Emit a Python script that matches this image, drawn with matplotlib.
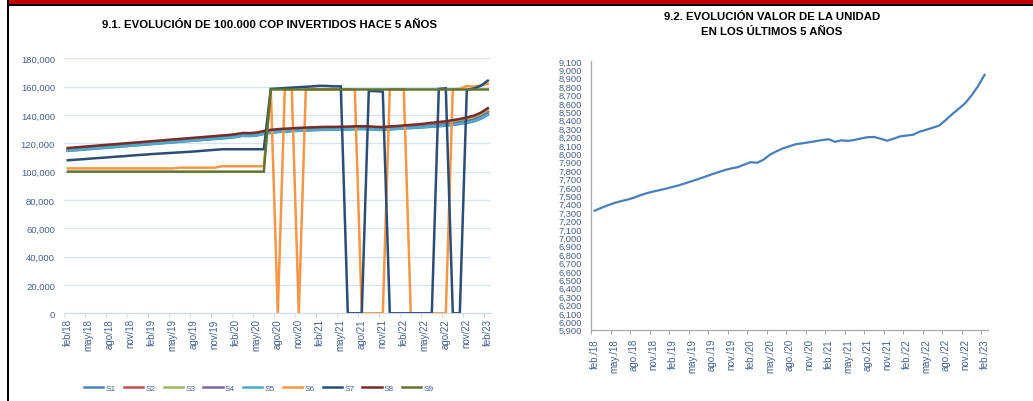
import numpy as np
import matplotlib.pyplot as plt
from matplotlib.patches import Rectangle
from matplotlib.ticker import StrMethodFormatter

plt.rcParams['font.family'] = ['Liberation Sans', 'DejaVu Sans']

# -------------------------------
# datos (mensual feb/18 -> feb/23, 61 puntos)
# -------------------------------
labels_left = ['feb/18', 'may/18', 'ago/18', 'nov/18', 'feb/19', 'may/19', 'ago/19',
               'nov/19', 'feb/20', 'may/20', 'ago/20', 'nov/20', 'feb/21', 'may/21',
               'ago/21', 'nov/21', 'feb/22', 'may/22', 'ago/22', 'nov/22', 'feb/23']
labels_right = ['feb./18', 'may./18', 'ago./18', 'nov./18', 'feb./19', 'may./19', 'ago./19',
                'nov./19', 'feb./20', 'may./20', 'ago./20', 'nov./20', 'feb./21', 'may./21',
                'ago./21', 'nov./21', 'feb./22', 'may./22', 'ago./22', 'nov./22', 'feb./23']

s1 = [114600, 115000, 115400, 115800, 116200, 116600, 117000, 117400, 117800, 118200, 118600, 119000,
      119400, 119800, 120200, 120600, 121000, 121400, 121800, 122200, 122600, 123000, 123400, 123800,
      124400, 125200, 125100, 125500, 126600, 127400, 127900, 128200, 128500, 128800, 129000, 129200,
      129400, 129500, 129500, 129600, 129700, 129900, 130000, 129900, 129500, 129400, 129800, 130100,
      130500, 130700, 131000, 131300, 131700, 132000, 132400, 132900, 133600, 134400, 135400, 137300,
      140200]
s2 = [115600, 116000, 116400, 116800, 117200, 117600, 118000, 118400, 118800, 119200, 119600, 120000,
      120400, 120800, 121200, 121600, 122000, 122400, 122800, 123200, 123600, 124000, 124400, 124800,
      125400, 126200, 126100, 126500, 127600, 128400, 128900, 129200, 129500, 129800, 130000, 130200,
      130400, 130500, 130500, 130600, 130700, 130900, 131000, 130900, 130500, 130400, 130800, 131100,
      131500, 131800, 132100, 132500, 133050, 133500, 134000, 134600, 135400, 136300, 137500, 139500,
      142600]
s3 = [116000, 116400, 116800, 117200, 117600, 118000, 118400, 118800, 119200, 119600, 120000, 120400,
      120800, 121200, 121600, 122000, 122400, 122800, 123200, 123600, 124000, 124400, 124800, 125200,
      125800, 126600, 126500, 126900, 128000, 128800, 129300, 129600, 129900, 130200, 130400, 130600,
      130800, 130900, 130900, 131000, 131100, 131300, 131400, 131300, 130900, 130800, 131200, 131500,
      131900, 132250, 132600, 133050, 133600, 134050, 134600, 135250, 136100, 137000, 138200, 140200,
      143300]
s4 = [115200, 115600, 116000, 116400, 116800, 117200, 117600, 118000, 118400, 118800, 119200, 119600,
      120000, 120400, 120800, 121200, 121600, 122000, 122400, 122800, 123200, 123600, 124000, 124400,
      125000, 125800, 125700, 126100, 127200, 128000, 128500, 128800, 129100, 129400, 129600, 129800,
      130000, 130100, 130100, 130200, 130300, 130500, 130600, 130500, 130100, 130000, 130400, 130700,
      131100, 131400, 131700, 132100, 132600, 133000, 133500, 134000, 134800, 135600, 136700, 138600,
      141600]
s5 = [114800, 115200, 115600, 116000, 116400, 116800, 117200, 117600, 118000, 118400, 118800, 119200,
      119600, 120000, 120400, 120800, 121200, 121600, 122000, 122400, 122800, 123200, 123600, 124000,
      124600, 125400, 125300, 125700, 126800, 127600, 128100, 128400, 128700, 129000, 129200, 129400,
      129600, 129700, 129700, 129800, 129900, 130100, 130200, 130100, 129700, 129600, 130000, 130300,
      130700, 130900, 131200, 131500, 132000, 132300, 132700, 133200, 133900, 134700, 135700, 137600,
      140500]
s6 = [102300, 102300, 102300, 102300, 102300, 102300, 102300, 102300, 102300, 102300, 102300, 102300,
      102300, 102300, 102300, 102300, 102800, 102800, 102800, 102800, 102800, 102800, 103800, 103800,
      103800, 103800, 103800, 103800, 103800, 158000, 0, 158000, 158000, 0, 158000, 158000,
      158000, 158000, 158000, 158000, 158000, 158000, 0, 0, 0, 0, 158000, 158000,
      158000, 0, 0, 0, 0, 0, 0, 158000, 158500, 160500, 160000, 160800,
      162000]
s7 = [108000, 108400, 108700, 109100, 109500, 109800, 110200, 110600, 110900, 111300, 111700, 112000,
      112400, 112700, 113000, 113300, 113600, 113900, 114200, 114600, 115000, 115400, 115800, 115800,
      115800, 115800, 115800, 115800, 115800, 158400, 158700, 159000, 159300, 159600, 159900, 160200,
      160600, 160500, 160200, 160200, 0, 0, 0, 157000, 156800, 156500, 0, 0,
      0, 0, 0, 0, 0, 158400, 158800, 0, 0, 157600, 158700, 160600,
      164200]
s8 = [116700, 117100, 117500, 117900, 118300, 118700, 119100, 119500, 119900, 120300, 120700, 121100,
      121500, 121900, 122300, 122700, 123100, 123500, 123900, 124300, 124700, 125100, 125500, 125900,
      126500, 127300, 127200, 127600, 128700, 129500, 130000, 130300, 130600, 130900, 131100, 131300,
      131500, 131600, 131600, 131700, 131800, 132000, 132100, 132000, 131600, 131500, 131900, 132200,
      132600, 133000, 133400, 133900, 134500, 135000, 135600, 136300, 137200, 138200, 139500, 141600,
      144800]
s9 = [100000] * 29 + [158000] * 32

# valor de la unidad
unidad = [7317, 7350, 7380, 7408, 7430, 7448, 7470, 7500, 7525, 7545, 7562, 7580,
          7600, 7620, 7645, 7670, 7695, 7722, 7750, 7775, 7800, 7820, 7835, 7865,
          7895, 7888, 7925, 7985, 8025, 8060, 8085, 8110, 8120, 8132, 8145, 8158,
          8168, 8138, 8155, 8148, 8160, 8178, 8192, 8195, 8175, 8150, 8175, 8202,
          8212, 8222, 8258, 8280, 8305, 8330, 8395, 8465, 8530, 8595, 8690, 8800,
          8935]

series = [s1, s2, s3, s4, s5, s6, s7, s8, s9]
names = ['S1', 'S2', 'S3', 'S4', 'S5', 'S6', 'S7', 'S8', 'S9']
colors = ['#4F81BD', '#C0504D', '#9BBB59', '#8064A2', '#4BACC6',
          '#F79646', '#2C4D75', '#772C2A', '#5F7530']

txt_color = '#44608C'
W, H = 1033, 402


def px_box(x0, y0, x1, y1):
    return [x0 / W, 1 - y1 / H, (x1 - x0) / W, (y1 - y0) / H]


fig = plt.figure(figsize=(W / 100, H / 100), dpi=100)

# marco: franja roja, linea negra, borde izquierdo
fig.add_artist(Rectangle((9 / W, 1 - 5 / H), 1, 5 / H, transform=fig.transFigure,
                         color='#C00000', lw=0))
fig.add_artist(Rectangle((7 / W, 1 - 7 / H), 1, 2 / H, transform=fig.transFigure,
                         color='black', lw=0))
fig.add_artist(Rectangle((7 / W, 0), 2 / W, 1, transform=fig.transFigure,
                         color='black', lw=0))

# -------------------------------
# 9.1 grafico izquierdo
# -------------------------------
ax1 = fig.add_axes(px_box(64.3, 59.3, 491.3, 314.3))
x = np.arange(len(s1))
lines = []
for vals, name, col in zip(series, names, colors):
    ln, = ax1.plot(x, vals, color=col, lw=1.8, label=name, solid_joinstyle='miter')
    lines.append(ln)

ax1.set_xlim(-0.5, 60.5)
ax1.set_ylim(0, 180000)
ax1.set_yticks(np.arange(0, 180001, 20000))
ax1.yaxis.set_major_formatter(StrMethodFormatter('{x:,.0f}'))
ax1.yaxis.grid(True, color='#D9E1F2', lw=0.9)
ax1.set_axisbelow(True)
for sp in ['left', 'top', 'right']:
    ax1.spines[sp].set_visible(False)
ax1.spines['bottom'].set_color('#D0D9EA')
ax1.tick_params(axis='y', length=0, pad=6.7, labelsize=6.8, labelcolor=txt_color)

major = np.arange(-0.5, 60, 3)
ax1.set_xticks(major, labels=[''] * len(major))
ax1.set_xticks(np.arange(0, 61, 3), labels=labels_left, minor=True, rotation=90)
ax1.tick_params(axis='x', which='major', length=3, color='#D0D9EA', direction='out')
ax1.tick_params(axis='x', which='minor', length=0, pad=3.6, labelsize=7, labelcolor=txt_color)

fig.text(270 / W, 1 - 25 / H, '9.1. EVOLUCIÓN DE 100.000 COP INVERTIDOS HACE 5 AÑOS',
         ha='center', va='center', fontsize=8.2, fontweight='bold')

fig.legend(lines, names, ncol=9, loc='center', bbox_to_anchor=(259 / W, 1 - 389 / H),
           frameon=False, fontsize=6, handlelength=2.3, handletextpad=0.3,
           columnspacing=0.95, labelcolor=txt_color)

# -------------------------------
# 9.2 grafico derecho
# -------------------------------
ax2 = fig.add_axes(px_box(591.3, 62, 987.8, 330.7))
ax2.plot(x, unidad, color='#4A7EBB', lw=1.6)
ax2.set_xlim(-0.5, 60.5)
ax2.set_ylim(5900, 9100)
ax2.set_yticks(np.arange(5900, 9101, 100))
ax2.yaxis.set_major_formatter(StrMethodFormatter('{x:,.0f}'))
for sp in ['top', 'right']:
    ax2.spines[sp].set_visible(False)
for sp in ['left', 'bottom']:
    ax2.spines[sp].set_color('#A6A6A6')
    ax2.spines[sp].set_linewidth(0.9)
ax2.tick_params(axis='y', length=0, pad=6.9, labelsize=6.7, labelcolor=txt_color)
ax2.set_xticks(major, labels=[''] * len(major))
ax2.set_xticks(np.arange(0, 61, 3), labels=labels_right, minor=True, rotation=90)
ax2.tick_params(axis='x', which='major', length=3, color='#A6A6A6', direction='out')
ax2.tick_params(axis='x', which='minor', length=0, pad=6, labelsize=7, labelcolor=txt_color)

fig.text(771.7 / W, 1 - 17.2 / H, '9.2. EVOLUCIÓN VALOR DE LA UNIDAD',
         ha='center', va='center', fontsize=8.2, fontweight='bold')
fig.text(771.7 / W, 1 - 32.2 / H, 'EN LOS ÚLTIMOS 5 AÑOS',
         ha='center', va='center', fontsize=8.2, fontweight='bold')

fig.savefig('out.png', dpi=100)
